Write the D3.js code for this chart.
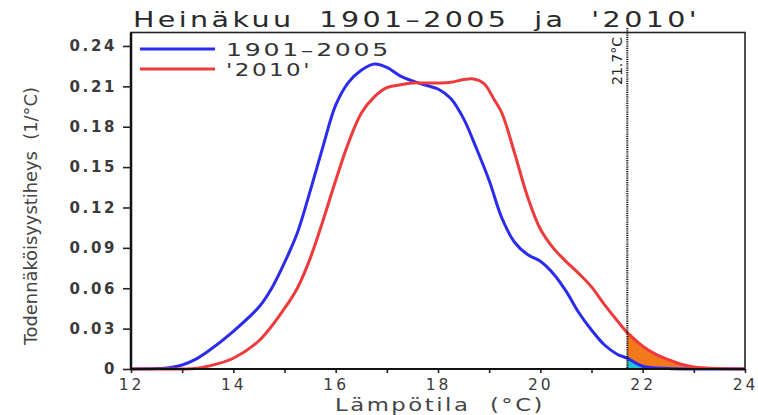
<!DOCTYPE html>
<html><head><meta charset="utf-8">
<script src="https://cdn.jsdelivr.net/npm/d3@7"></script>
<style>body{margin:0;background:#fff}svg{display:block}text{white-space:pre}</style>
</head><body>
<svg id="c" width="758" height="415"></svg>
<script>
const temps1 = [12,12.5,12.75,13,13.25,13.5,14,14.5,14.75,15,15.25,15.5,15.75,16,16.25,16.5,16.75,17,17.25,17.5,17.75,18,18.25,18.5,18.75,19,19.25,19.5,19.75,20,20.25,20.5,20.75,21,21.25,21.5,21.7,22,22.5,23,24];
const dens1 = [0,0.0003,0.001,0.003,0.007,0.013,0.028,0.046,0.06,0.079,0.101,0.132,0.165,0.196,0.213,0.222,0.2265,0.224,0.218,0.214,0.211,0.208,0.201,0.186,0.164,0.14,0.112,0.094,0.085,0.08,0.071,0.058,0.042,0.029,0.018,0.011,0.008,0.002,0.0003,0,0];
const temps2 = [12,13,13.25,13.5,14,14.5,15,15.25,15.5,15.75,16,16.25,16.5,16.75,17,17.25,17.5,17.75,18,18.25,18.5,18.7,18.9,19.1,19.25,19.5,19.75,20,20.25,20.5,20.75,21,21.25,21.5,21.7,22,22.25,22.5,22.75,23,23.5,24];
const dens2 = [0,0,0.0003,0.002,0.008,0.021,0.045,0.06,0.082,0.11,0.14,0.168,0.19,0.202,0.209,0.211,0.2125,0.2125,0.2125,0.213,0.215,0.2155,0.212,0.2,0.19,0.16,0.128,0.104,0.09,0.08,0.071,0.061,0.048,0.036,0.027,0.017,0.011,0.007,0.0035,0.0015,0.0003,0];
const seriesNames = ["1901\u20132005","'2010'"];
const xTicks = [12,14,16,18,20,22,24];
const yTicks = [0,0.03,0.06,0.09,0.12,0.15,0.18,0.21,0.24];
const threshold = 21.7;
const titleText = "Heinäkuu  1901\u20132005  ja  '2010'";
const xTitle = "Lämpötila  (°C)";
const yTitle = "Todennäköisyystiheys  (1/°C)";

const svg = d3.select("#c");
const L=131, R=745, T=32.5, B=369;
const x = d3.scaleLinear().domain([12,24]).range([L,R]);
const y = d3.scaleLinear().domain([0,0.25]).range([B,T]);
const blue="#2b2bee", red="#ee3a3a";
const s1 = temps1.map((t,i)=>({t,v:dens1[i]}));
const s2 = temps2.map((t,i)=>({t,v:dens2[i]}));
const font="'DejaVu Sans', sans-serif";
const curve = d3.curveCatmullRom.alpha(0.5);

// fills
const area = d3.area().x(d=>x(d.t)).y0(y(0)).y1(d=>y(Math.max(0,d.v))).curve(curve);
svg.append("path").datum(s2.filter(d=>d.t>=threshold)).attr("d",area).attr("fill","#f27a1c");
svg.append("path").datum(s1.filter(d=>d.t>=threshold)).attr("d",area).attr("fill","#22c3d6");

// lines
const line = d3.line().x(d=>x(d.t)).y(d=>y(d.v)).curve(curve);
svg.append("path").datum(s1).attr("d",line).attr("fill","none").attr("stroke",blue).attr("stroke-width",3);
svg.append("path").datum(s2).attr("d",line).attr("fill","none").attr("stroke",red).attr("stroke-width",3);

// frame
svg.append("rect").attr("x",L).attr("y",T).attr("width",R-L).attr("height",B-T).attr("fill","none").attr("stroke","#222").attr("stroke-width",1.6);
svg.append("line").attr("x1",L).attr("x2",L).attr("y1",T).attr("y2",B).attr("stroke","#111").attr("stroke-width",2.5);

// threshold line
svg.append("line").attr("x1",x(threshold)).attr("x2",x(threshold)).attr("y1",28).attr("y2",B)
  .attr("stroke","#111").attr("stroke-width",2).attr("stroke-dasharray","1.2,1");
svg.append("text").attr("transform",`translate(${x(threshold)-5},61) rotate(-90)`)
  .attr("text-anchor","middle").attr("font-family","'DejaVu Sans Condensed','DejaVu Sans',sans-serif").attr("font-size",14).attr("fill","#222")
  .attr("textLength",48).attr("lengthAdjust","spacingAndGlyphs").text(threshold+"°C");

// axes
const yAxis = svg.append("g").attr("transform",`translate(${L},0)`)
  .call(d3.axisLeft(y).tickValues(yTicks).tickSize(8).tickFormat(d=>d===0?"0":d3.format(".2f")(d)));
const xAxis = svg.append("g").attr("transform",`translate(0,${B})`)
  .call(d3.axisBottom(x).tickValues(d3.range(12,25,1)).tickSize(4).tickFormat(d=>xTicks.includes(d)?d:""));
[yAxis,xAxis].forEach(g=>{g.select(".domain").remove();g.selectAll("line").attr("stroke","#222").attr("stroke-width",1.6);
  g.selectAll("text").attr("font-family",font).attr("font-size",15).attr("fill","#3a3a3a");});
yAxis.selectAll("text").attr("x",-14).attr("font-weight","bold").style("letter-spacing","2.6px");
xAxis.selectAll("text").attr("y",6).attr("dy","0.95em").attr("font-size",15.5).style("letter-spacing","3px");
svg.append("line").attr("x1",L).attr("x2",R).attr("y1",B).attr("y2",B).attr("stroke","#111").attr("stroke-width",2);

// titles
svg.append("text").attr("x",133).attr("y",27).attr("font-family",font).style("letter-spacing","2.5px")
  .attr("font-size",21).attr("fill","#2a2a2a").attr("textLength",567).attr("lengthAdjust","spacingAndGlyphs").text(titleText);
svg.append("text").attr("x",335).attr("y",411).attr("font-family",font).style("letter-spacing","2px")
  .attr("font-size",18).attr("fill","#444").attr("textLength",210).attr("lengthAdjust","spacingAndGlyphs").text(xTitle);
svg.append("text").attr("transform","translate(37,216) rotate(-90)").attr("text-anchor","middle")
  .attr("font-family","'DejaVu Sans Condensed','DejaVu Sans',sans-serif").attr("font-size",18).attr("fill","#444")
  .attr("textLength",258).attr("lengthAdjust","spacingAndGlyphs").text(yTitle);

// legend
const leg = svg.append("g");
[[blue,seriesNames[0],49,165],[red,seriesNames[1],69,86]].forEach(([c,t,yy,w])=>{
  leg.append("line").attr("x1",140).attr("x2",215).attr("y1",yy).attr("y2",yy).attr("stroke",c).attr("stroke-width",3);
  leg.append("text").attr("x",226).attr("y",yy+7).attr("font-family",font).attr("font-size",18.5).attr("fill","#333")
    .style("letter-spacing","2px").attr("textLength",w).attr("lengthAdjust","spacingAndGlyphs").text(t);
});
</script>
</body></html>
